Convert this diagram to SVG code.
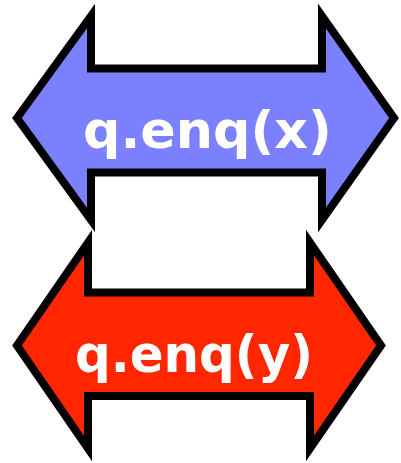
<svg xmlns="http://www.w3.org/2000/svg" width="401" height="463" viewBox="0 0 401 463">
<style>
.arrow{stroke:#000;stroke-width:8;stroke-linejoin:miter;stroke-miterlimit:10}
.lbl{font-family:"DejaVu Sans",sans-serif;font-weight:bold;font-size:52px;fill:#fff}
</style>
<rect width="401" height="463" fill="#fff"/>
<g id="enq-x">
<path class="arrow" fill="#7B80FF" d="M17,118 L91,16 L91,68.5 L322,68.5 L322,16 L394,118 L322,220 L322,172.5 L91,172.5 L91,220 Z"/>
<text class="lbl" x="83" y="148" textLength="249" lengthAdjust="spacingAndGlyphs">q.enq(x)</text>
</g>
<g id="enq-y">
<path class="arrow" fill="#FF2600" d="M17,345.5 L88,242.5 L88,292.5 L310,292.5 L310,242.5 L381,345.5 L310,448.5 L310,396 L88,396 L88,448.5 Z"/>
<text class="lbl" x="75" y="372" textLength="238" lengthAdjust="spacingAndGlyphs">q.enq(y)</text>
</g>
<g id="connectors"/>
</svg>
